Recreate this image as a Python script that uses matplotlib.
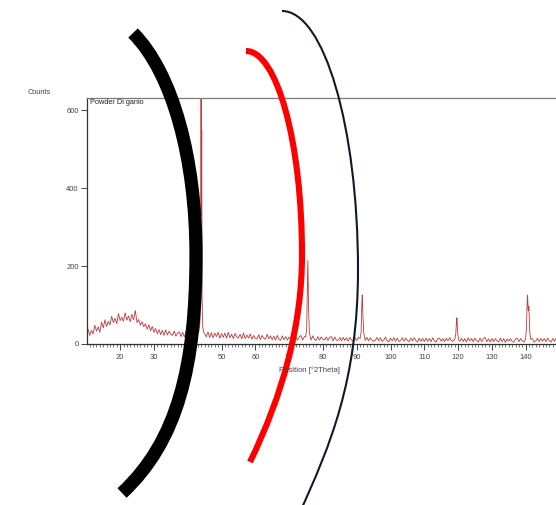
import numpy as np
import matplotlib
matplotlib.use("Agg")
import matplotlib.pyplot as plt
from matplotlib.path import Path
from matplotlib.patches import PathPatch

# =========================================================
# Data
# =========================================================

# background, every 0.5 deg from 10.5 to 149.5
bg_counts = [
    38, 22, 35, 26, 48, 33, 44, 30, 56, 41,
    62, 45, 58, 49, 71, 55, 66, 52, 78, 60,
    69, 58, 80, 61, 72, 57, 76, 62, 86, 55,
    63, 48, 57, 44, 52, 38, 49, 34, 45, 30,
    40, 26, 37, 24, 35, 22, 36, 23, 33, 25,
    22, 33, 20, 28, 31, 19, 30, 18, 32, 21,
    34, 19, 29, 22, 35, 27, 30, 26, 29, 27,
    18, 31, 17, 29, 16, 28, 19, 30, 15, 27,
    17, 28, 15, 30, 16, 25, 14, 27, 18, 15,
    25, 13, 28, 14, 23, 15, 26, 12, 22, 14,
    13, 24, 11, 22, 15, 12, 25, 13, 21, 11,
    20, 10, 22, 12, 9, 21, 11, 19, 10, 18,
    11, 21, 9, 19, 10, 18, 22, 10, 19, 12,
    11, 20, 10, 21, 12, 9, 19, 10, 18, 12,
    10, 18, 9, 17, 19, 8, 18, 10, 9, 17,
    8, 17, 9, 16, 7, 17, 10, 8, 16, 9,
    17, 8, 16, 18, 9, 17, 8, 16, 10, 7,
    9, 17, 8, 16, 7, 10, 18, 8, 6, 15,
    8, 16, 7, 15, 6, 9, 16, 7, 15, 9,
    6, 15, 8, 16, 9, 5, 15, 7, 14, 6,
    15, 7, 14, 6, 16, 8, 5, 14, 15, 7,
    14, 6, 15, 8, 16, 9, 7, 15, 14, 6,
    7, 15, 6, 14, 5, 16, 8, 14, 6, 15,
    8, 5, 15, 6, 14, 17, 6, 13, 5, 14,
    6, 14, 8, 5, 15, 6, 14, 4, 13, 7,
    14, 6, 5, 13, 15, 6, 14, 8, 5, 14,
    7, 15, 6, 14, 5, 8, 15, 6, 14, 7,
    14, 6, 15, 8, 5, 14, 7, 15, 9,
]
bg_theta = np.arange(len(bg_counts)) * 0.5 + 10.5

peak_theta = [
    [43.3, 43.6, 43.8, 43.95, 44.05, 44.15, 44.25, 44.45, 44.7],
    [74.9, 75.2, 75.4, 75.55, 75.75, 76.0, 76.3],
    [91.0, 91.3, 91.5, 91.65, 91.85, 92.1, 92.4],
    [119.0, 119.3, 119.5, 119.65, 119.85, 120.1],
    [139.9, 140.2, 140.4, 140.55, 140.75, 140.95, 141.2, 141.5],
]
peak_counts = [
    [32, 55, 160, 720, 330, 549, 120, 45, 30],
    [18, 40, 150, 214, 90, 30, 17],
    [14, 30, 100, 126, 70, 28, 15],
    [12, 25, 55, 67, 30, 13],
    [12, 35, 100, 126, 85, 96, 30, 12],
]

x_ticks = [20, 30, 40, 50, 60, 70, 80, 90, 100, 110, 120, 130, 140]
y_ticks = [0, 200, 400, 600]

# merge background and peaks
theta = list(bg_theta)
counts = list(bg_counts)
for pt, pc in zip(peak_theta, peak_counts):
    keep = [(t, c) for t, c in zip(theta, counts) if t < pt[0] or t > pt[-1]]
    theta = [k[0] for k in keep] + pt
    counts = [k[1] for k in keep] + pc
order = np.argsort(theta)
theta = np.array(theta)[order]
counts = np.array(counts)[order]

# =========================================================
# Plot
# =========================================================

plt.rcParams["font.family"] = ["Liberation Sans", "DejaVu Sans"]

W, H = 556, 505
fig = plt.figure(figsize=(W / 100, H / 100), dpi=100)

ax = fig.add_axes([87 / W, (H - 344) / H, 472.5 / W, 246 / H])
ax.plot(theta, counts, color="#c0393b", linewidth=0.6)
ax.set_xlim(10.2, 150)
ax.set_ylim(0, 631)

ax.set_xticks(x_ticks)
ax.set_xticks(np.arange(11, 150, 1), minor=True)
ax.set_yticks(y_ticks)
ax.tick_params(axis="both", which="major", direction="out", length=4,
               width=0.7, color="#444444", labelsize=5.5, labelcolor="#444444", pad=2)
ax.tick_params(axis="x", which="minor", direction="out", length=2,
               width=0.5, color="#444444")
ax.tick_params(axis="x", which="major", pad=3)

ax.spines["left"].set_color("#333333")
ax.spines["bottom"].set_color("#333333")
ax.spines["top"].set_color("#7a7a7a")
ax.spines["right"].set_visible(False)
for s in ax.spines.values():
    s.set_linewidth(0.9)

fig.text(28 / W, 1 - 93 / H, "Counts", fontsize=5.3, color="#444444",
         ha="left", va="center")
fig.text(90 / W, 1 - 103 / H, "Powder Di ganio", fontsize=5.3, color="#222222",
         ha="left", va="center")
fig.text(309 / W, 1 - 370 / H, "Position [°2Theta]", fontsize=5.5,
         color="#444444", ha="center", va="center")

# =========================================================
# Hand-drawn arcs on top (pixel space)
# =========================================================

over = fig.add_axes([0, 0, 1, 1])
over.set_xlim(0, W)
over.set_ylim(H, 0)
over.axis("off")
over.patch.set_alpha(0)

arcs = [
    # (vertices, colour, width in pt)
    ([(133, 33), (173, 73), (196, 160), (196, 255),
      (196, 365), (178, 441), (122, 493)], "black", 9.5),
    ([(246, 51), (277, 51), (302, 142), (302, 255),
      (302, 325), (283, 394), (250, 462)], "#ff0000", 4.4),
    ([(282, 11), (324, 11), (358, 127), (358, 270),
      (358, 380), (330, 446), (300, 512)], "#0e1a2b", 1.5),
]
codes = [Path.MOVETO] + [Path.CURVE4] * 6
for verts, col, lw in arcs:
    over.add_patch(PathPatch(Path(verts, codes), fill=False, edgecolor=col,
                             linewidth=lw, capstyle="butt"))

fig.savefig("out.png", dpi=100)
